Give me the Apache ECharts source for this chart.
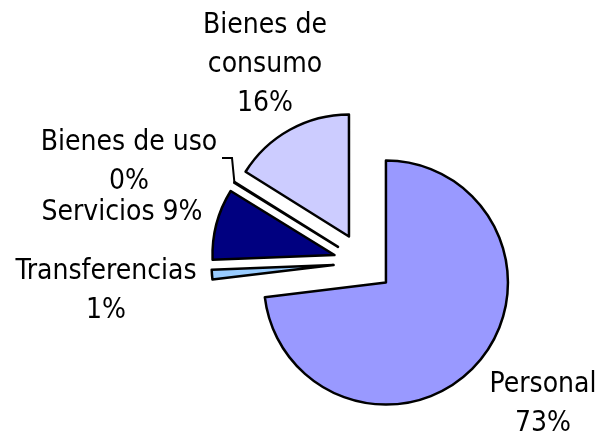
<!DOCTYPE html>
<html>
<head>
<meta charset="utf-8">
<script src="https://cdn.jsdelivr.net/npm/echarts@6/dist/echarts.min.js"></script>
<style>
  html, body { margin: 0; padding: 0; background: #fff; }
  #chart { width: 600px; height: 434px; }
</style>
</head>
<body>
<div id="chart"></div>
<script>
// data (percent of total)
var categories = ['Personal', 'Transferencias', 'Servicios', 'Bienes de uso', 'Bienes de\nconsumo'];
var values = [73.1, 1.3, 9.4, 0.1, 16.1];
var colors = ['#9999FF', '#99CCFF', '#000080', '#993366', '#CCCCFF'];
// text between name and percent in each label
var separators = ['\n', '\n', ' ', '\n', '\n'];

// layout only
var pieCenter = [363.5, 262.7];
var pieRadius = 122;
var explode = 30;
var labelPos = [[543, 404], [106, 291], [122, 213], [129, 162], [265, 65]];
var font = 'DejaVu Sans Condensed, DejaVu Sans, sans-serif';

var chart = echarts.init(document.getElementById('chart'));

var pieData = categories.map(function (name, i) {
  return { name: name, value: values[i] };
});

chart.setOption({
  animation: false,
  backgroundColor: '#fff',
  textStyle: { fontFamily: font },
  series: [{
    // exploded slices
    type: 'pie',
    center: pieCenter,
    radius: pieRadius,
    startAngle: 90,
    clockwise: true,
    selectedMode: 'multiple',
    selectedOffset: explode,
    silent: true,
    itemStyle: { borderColor: '#000', borderWidth: 2.5 },
    label: { show: false },
    labelLine: { show: false },
    data: pieData.map(function (d, i) {
      return {
        name: d.name,
        value: d.value,
        selected: true,
        itemStyle: { color: colors[i] },
        select: { itemStyle: { color: colors[i], borderColor: '#000', borderWidth: 2.5 } }
      };
    })
  }, {
    // same pie, invisible, only carries the labels
    type: 'pie',
    center: pieCenter,
    radius: pieRadius,
    startAngle: 90,
    clockwise: true,
    silent: true,
    avoidLabelOverlap: false,
    percentPrecision: 2,
    itemStyle: { color: 'rgba(0,0,0,0)', borderWidth: 0 },
    label: {
      show: true,
      position: 'outside',
      color: '#000',
      fontSize: 28,
      lineHeight: 39,
      align: 'center',
      fontFamily: font,
      formatter: function (p) {
        return p.name + separators[p.dataIndex] + Math.round(p.percent) + '%';
      }
    },
    labelLine: { show: false },
    labelLayout: function (params) {
      var pos = labelPos[params.dataIndex];
      var out = { x: pos[0], y: pos[1], align: 'center', verticalAlign: 'middle' };
      if (params.dataIndex === 3 && params.labelLinePoints) {
        // leader line starts on the exploded slice
        var p0 = params.labelLinePoints[0];
        var dx = p0[0] - pieCenter[0];
        var dy = p0[1] - pieCenter[1];
        var len = Math.sqrt(dx * dx + dy * dy);
        var s = [p0[0] + dx / len * explode, p0[1] + dy / len * explode];
        out.labelLinePoints = [s, [232, 158], [222, 158]];
      }
      return out;
    },
    data: pieData.map(function (d, i) {
      var item = { name: d.name, value: d.value };
      if (i === 3) {
        item.labelLine = { show: true, lineStyle: { color: '#000', width: 2 } };
      }
      return item;
    })
  }]
});
</script>
</body>
</html>
